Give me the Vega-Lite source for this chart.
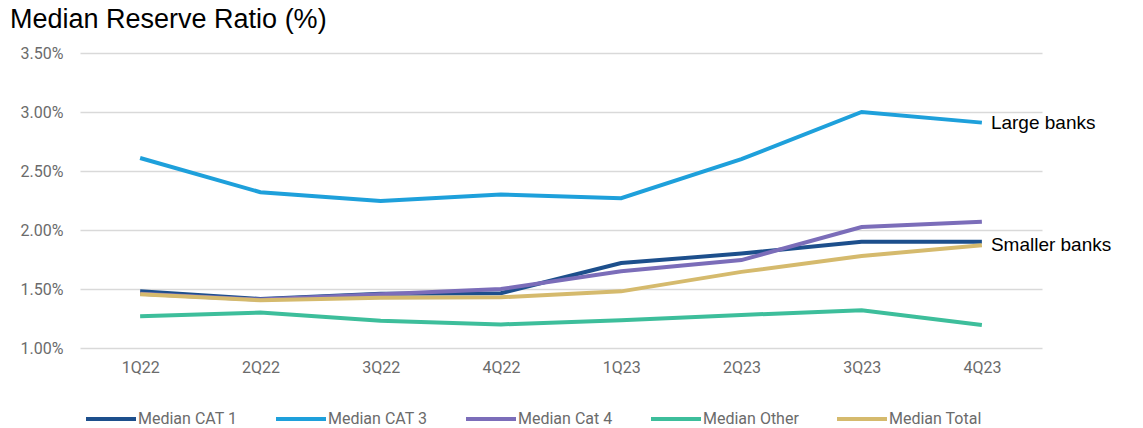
{
  "$schema": "https://vega.github.io/schema/vega-lite/v6.json",
  "width": 962,
  "height": 295,
  "autosize": {"type": "none"},
  "padding": {"left": 80, "top": 53, "right": 101, "bottom": 80},
  "background": "white",
  "title": {
    "text": "Median Reserve Ratio (%)",
    "anchor": "start",
    "frame": "group",
    "dx": -70,
    "offset": 11,
    "font": "Liberation Sans",
    "fontSize": 27,
    "fontWeight": "normal",
    "color": "#000000"
  },
  "config": {
    "view": {"stroke": null},
    "font": "Roboto"
  },
  "datasets": {
    "series": [
      {"quarter": "1Q22", "series": "Median CAT 1", "value": 1.48},
      {"quarter": "2Q22", "series": "Median CAT 1", "value": 1.415},
      {"quarter": "3Q22", "series": "Median CAT 1", "value": 1.46},
      {"quarter": "4Q22", "series": "Median CAT 1", "value": 1.465},
      {"quarter": "1Q23", "series": "Median CAT 1", "value": 1.72},
      {"quarter": "2Q23", "series": "Median CAT 1", "value": 1.8},
      {"quarter": "3Q23", "series": "Median CAT 1", "value": 1.9},
      {"quarter": "4Q23", "series": "Median CAT 1", "value": 1.9},
      {"quarter": "1Q22", "series": "Median CAT 3", "value": 2.61},
      {"quarter": "2Q22", "series": "Median CAT 3", "value": 2.32},
      {"quarter": "3Q22", "series": "Median CAT 3", "value": 2.245},
      {"quarter": "4Q22", "series": "Median CAT 3", "value": 2.3},
      {"quarter": "1Q23", "series": "Median CAT 3", "value": 2.27},
      {"quarter": "2Q23", "series": "Median CAT 3", "value": 2.6},
      {"quarter": "3Q23", "series": "Median CAT 3", "value": 3.0},
      {"quarter": "4Q23", "series": "Median CAT 3", "value": 2.91},
      {"quarter": "1Q22", "series": "Median Cat 4", "value": 1.46},
      {"quarter": "2Q22", "series": "Median Cat 4", "value": 1.41},
      {"quarter": "3Q22", "series": "Median Cat 4", "value": 1.455},
      {"quarter": "4Q22", "series": "Median Cat 4", "value": 1.5},
      {"quarter": "1Q23", "series": "Median Cat 4", "value": 1.65},
      {"quarter": "2Q23", "series": "Median Cat 4", "value": 1.745},
      {"quarter": "3Q23", "series": "Median Cat 4", "value": 2.025},
      {"quarter": "4Q23", "series": "Median Cat 4", "value": 2.07},
      {"quarter": "1Q22", "series": "Median Other", "value": 1.27},
      {"quarter": "2Q22", "series": "Median Other", "value": 1.3},
      {"quarter": "3Q22", "series": "Median Other", "value": 1.23},
      {"quarter": "4Q22", "series": "Median Other", "value": 1.2},
      {"quarter": "1Q23", "series": "Median Other", "value": 1.235},
      {"quarter": "2Q23", "series": "Median Other", "value": 1.28},
      {"quarter": "3Q23", "series": "Median Other", "value": 1.32},
      {"quarter": "4Q23", "series": "Median Other", "value": 1.195},
      {"quarter": "1Q22", "series": "Median Total", "value": 1.455},
      {"quarter": "2Q22", "series": "Median Total", "value": 1.405},
      {"quarter": "3Q22", "series": "Median Total", "value": 1.425},
      {"quarter": "4Q22", "series": "Median Total", "value": 1.43},
      {"quarter": "1Q23", "series": "Median Total", "value": 1.48},
      {"quarter": "2Q23", "series": "Median Total", "value": 1.645},
      {"quarter": "3Q23", "series": "Median Total", "value": 1.78},
      {"quarter": "4Q23", "series": "Median Total", "value": 1.87}
    ],
    "notes": [
      {"quarter": "4Q23", "value": 2.91, "label": "Large banks"},
      {"quarter": "4Q23", "value": 1.87, "label": "Smaller banks"}
    ]
  },
  "layer": [
    {
      "data": {"name": "series"},
      "mark": {"type": "line", "strokeWidth": 4, "strokeCap": "butt"},
      "encoding": {
        "x": {
          "field": "quarter",
          "type": "ordinal",
          "sort": ["1Q22", "2Q22", "3Q22", "4Q22", "1Q23", "2Q23", "3Q23", "4Q23"],
          "scale": {"type": "point", "padding": 0.5},
          "axis": {
            "title": null,
            "domain": false,
            "ticks": false,
            "grid": false,
            "labelAngle": 0,
            "labelFont": "Roboto",
            "labelFontSize": 16,
            "labelColor": "#6b6b6b",
            "labelPadding": 11
          }
        },
        "y": {
          "field": "value",
          "type": "quantitative",
          "scale": {"domain": [1, 3.5], "nice": false, "zero": false},
          "axis": {
            "title": null,
            "values": [1, 1.5, 2, 2.5, 3, 3.5],
            "labelExpr": "format(datum.value, '.2f') + '%'",
            "domain": false,
            "ticks": false,
            "grid": true,
            "gridColor": "#d9d9d9",
            "gridWidth": 1.5,
            "labelFont": "Roboto",
            "labelFontSize": 16,
            "labelColor": "#6b6b6b",
            "labelPadding": 17
          }
        },
        "color": {
          "field": "series",
          "type": "nominal",
          "scale": {
            "domain": ["Median CAT 1", "Median CAT 3", "Median Cat 4", "Median Other", "Median Total"],
            "range": ["#1d4f8c", "#1ea0db", "#7b6db9", "#3dbe9b", "#d5ba6d"]
          },
          "legend": {
            "title": null,
            "orient": "none",
            "direction": "horizontal",
            "legendX": 4,
            "legendY": 339,
            "symbolType": "stroke",
            "symbolSize": 2500,
            "symbolStrokeWidth": 4,
            "symbolOffset": 0,
            "labelOffset": 0,
            "labelFont": "Roboto",
            "labelFontSize": 16,
            "labelColor": "#6b6b6b",
            "columnPadding": 30
          }
        }
      }
    },
    {
      "data": {"name": "notes"},
      "mark": {
        "type": "text",
        "align": "left",
        "baseline": "middle",
        "dx": 9,
        "font": "Liberation Sans",
        "fontSize": 19,
        "color": "#000000"
      },
      "encoding": {
        "x": {"field": "quarter", "type": "ordinal", "sort": ["1Q22", "2Q22", "3Q22", "4Q22", "1Q23", "2Q23", "3Q23", "4Q23"]},
        "y": {"field": "value", "type": "quantitative"},
        "text": {"field": "label"}
      }
    }
  ]
}
